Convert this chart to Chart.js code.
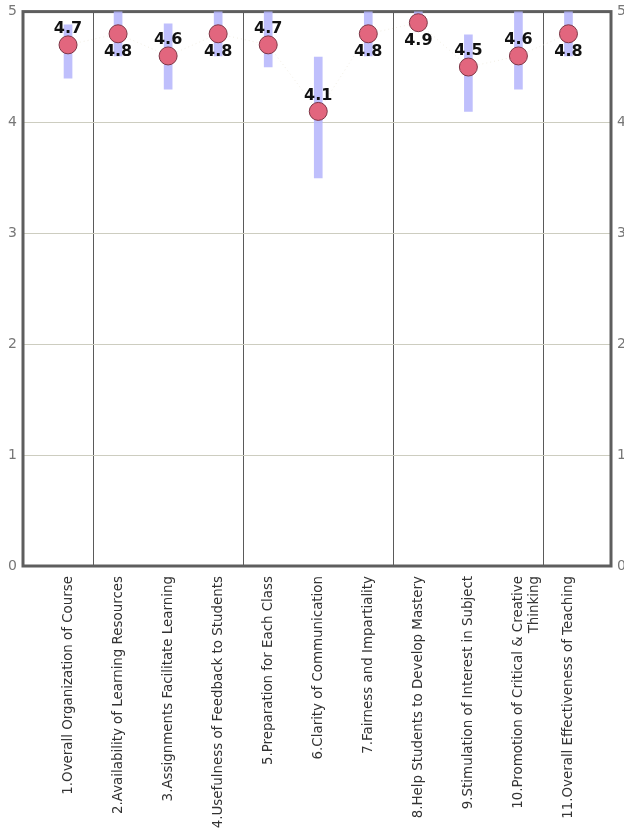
<!DOCTYPE html>
<html>
<head>
<meta charset="utf-8">
<script src="https://cdn.jsdelivr.net/npm/chart.js@4/dist/chart.umd.min.js"></script>
<style>
  html, body { margin: 0; padding: 0; background: #fff; overflow: hidden; }
  #wrap { width: 640px; height: 831px; }
</style>
</head>
<body>
<div id="wrap"><canvas id="chart" width="640" height="831"></canvas></div>
<script>
// chart data
const categories = [
    "1.Overall Organization of Course",
    "2.Availability of Learning Resources",
    "3.Assignments Facilitate Learning",
    "4.Usefulness of Feedback to Students",
    "5.Preparation for Each Class",
    "6.Clarity of Communication",
    "7.Fairness and Impartiality",
    "8.Help Students to Develop Mastery",
    "9.Stimulation of Interest in Subject",
    ["10.Promotion of Critical & Creative", "Thinking"],
    "11.Overall Effectiveness of Teaching",
];
const means = [4.7, 4.8, 4.6, 4.8, 4.7, 4.1, 4.8, 4.9, 4.5, 4.6, 4.8];
const rangeLow = [4.4, 4.6, 4.3, 4.6, 4.5, 3.5, 4.6, 4.85, 4.1, 4.3, 4.6];
const rangeHigh = [4.88, 5.1, 4.89, 5.1, 5.1, 4.59, 5.1, 5.1, 4.79, 5.1, 5.1];
const yTicks = [0, 1, 2, 3, 4, 5];
const groupBreaks = [0.5, 3.5, 6.5, 9.5];

const FONT = "'DejaVu Sans', Verdana, sans-serif";

// frame around the plot area, drawn on top of the grid
const framePlugin = {
    id: "frame",
    beforeDatasetsDraw(chart) {
        const { ctx, chartArea: a } = chart;
        ctx.save();
        ctx.strokeStyle = "#5e5e5e";
        ctx.lineWidth = 3;
        ctx.strokeRect(a.left, a.top, a.right - a.left, a.bottom - a.top);
        ctx.restore();
    },
};

// value labels: above the point, below when near the top
const valueLabels = {
    id: "valueLabels",
    afterDatasetsDraw(chart) {
        const { ctx } = chart;
        const meta = chart.getDatasetMeta(1);
        ctx.save();
        ctx.font = "bold 16px " + FONT;
        ctx.fillStyle = "#111";
        ctx.textAlign = "center";
        ctx.textBaseline = "middle";
        meta.data.forEach((pt, i) => {
            const below = means[i] >= 4.75;
            const y = below ? pt.y + 18 : pt.y - 16;
            ctx.fillText(means[i].toFixed(1), pt.x, y);
        });
        ctx.restore();
    },
};

const xRange = { min: -0.9, max: 10.85, offset: false };
const yTickFont = { family: FONT, size: 14, lineHeight: 0.8 };

new Chart(document.getElementById("chart"), {
    type: "bar",
    data: {
        datasets: [
            {
                type: "bar",
                data: categories.map((c, i) => ({ x: i, y: [rangeLow[i], rangeHigh[i]] })),
                backgroundColor: "rgba(180,180,252,0.85)",
                borderWidth: 0,
                barThickness: 8,
                order: 2,
            },
            {
                type: "line",
                data: categories.map((c, i) => ({ x: i, y: means[i] })),
                borderColor: "rgba(225,218,195,0.45)",
                borderWidth: 1,
                borderDash: [1, 3],
                pointRadius: 9,
                pointBackgroundColor: "#e2667e",
                pointBorderColor: "#7c3444",
                pointBorderWidth: 1,
                order: 1,
            },
        ],
    },
    options: {
        responsive: false,
        animation: false,
        devicePixelRatio: 1,
        layout: { padding: 0 },
        plugins: {
            legend: { display: false },
            tooltip: { enabled: false },
        },
        scales: {
            x: {
                type: "linear",
                position: "bottom",
                ...xRange,
                afterBuildTicks: (s) => { s.ticks = categories.map((c, i) => ({ value: i })); },
                afterFit: (s) => { s.height = 265; },
                grid: { display: false, offset: false },
                border: { display: false },
                ticks: {
                    autoSkip: false,
                    minRotation: 90,
                    maxRotation: 90,
                    padding: 2,
                    color: "#333",
                    font: { family: FONT, size: 13.4 },
                    callback: (v) => categories[v],
                },
            },
            x2: {
                type: "linear",
                position: "top",
                ...xRange,
                afterBuildTicks: (s) => { s.ticks = groupBreaks.map((v) => ({ value: v })); },
                afterFit: (s) => { s.height = 8; },
                grid: { color: "#5a5a5a", lineWidth: 1, drawTicks: false, offset: false },
                border: { display: false },
                ticks: { display: false },
            },
            y: {
                position: "left",
                min: 0,
                max: 5,
                afterBuildTicks: (s) => { s.ticks = yTicks.map((v) => ({ value: v })); },
                afterFit: (s) => { s.width = 23; },
                grid: { color: "#cdcdc0", drawTicks: false },
                border: { display: false },
                ticks: { padding: 6, color: "#777", font: yTickFont },
            },
            y2: {
                position: "right",
                min: 0,
                max: 5,
                afterBuildTicks: (s) => { s.ticks = yTicks.map((v) => ({ value: v })); },
                afterFit: (s) => { s.width = 29; },
                grid: { display: false, drawTicks: false },
                border: { display: false },
                ticks: { padding: 6, color: "#777", font: yTickFont },
            },
        },
    },
    plugins: [framePlugin, valueLabels],
});
</script>
</body>
</html>
